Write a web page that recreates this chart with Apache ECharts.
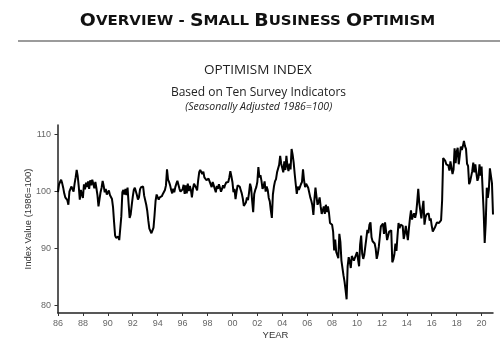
<!DOCTYPE html>
<html>
<head>
<meta charset="utf-8">
<script src="https://cdn.jsdelivr.net/npm/echarts@6/dist/echarts.min.js"></script>
<style>
html,body{margin:0;padding:0;background:#fff;}
#chart{width:500px;height:349px;}
</style>
</head>
<body>
<div id="chart"></div>
<script>
// ---- Data (monthly, Jan 1986 - Dec 2020), index 1986=100 ----
const startYear = 1986;
const idx1986_1990 = [
  99.8,101.2,101.6,102.0,101.4,100.6,99.6,98.9,98.7,98.4,97.6,99.9,
  100.4,100.8,101.1,99.9,101.3,102.4,103.7,102.6,100.8,98.5,100.2,99.4,
  98.8,101.2,100.3,101.5,100.7,101.7,100.4,101.9,101.0,102.0,101.3,100.5,
  101.6,100.5,99.3,97.3,98.6,99.8,100.6,101.8,100.9,99.8,100.4,99.4,
  99.6,100.1,99.3,99.4,98.6,97.2,94.6,92.2,91.8,91.6,92.0,91.4
];
const idx1991_1995 = [
  91.2,95.6,99.8,100.2,99.4,100.4,99.3,100.6,97.8,95.3,95.9,97.5,
  99.0,100.2,100.6,100.9,99.3,98.5,98.9,100.3,100.7,100.5,100.8,99.2,
  98.4,97.6,96.5,94.8,93.4,93.1,92.6,92.4,93.6,95.8,98.3,99.4,
  99.6,98.5,98.9,98.8,99.1,99.5,99.8,100.2,101.0,103.8,102.0,101.6,
  101.0,100.2,99.6,100.4,99.8,100.7,101.3,101.8,101.5,100.4,99.9,99.6
];
const idx1996_2000 = [
  100.3,101.1,99.5,101.0,99.6,101.3,100.0,100.9,100.2,98.9,100.4,101.3,
  101.2,100.6,100.1,101.9,103.3,103.7,103.6,103.0,103.4,102.4,102.1,101.9,
  101.9,102.2,101.7,101.5,100.7,101.6,101.0,100.9,99.8,100.9,100.4,101.2,
  100.6,99.9,100.4,101.0,100.5,101.1,101.5,101.8,101.6,102.4,103.5,102.6,
  101.6,99.8,100.4,98.6,99.9,101.0,101.2,100.8,100.2,99.6,98.7,97.4
];
const idx2001_2005 = [
  97.4,98.0,98.9,98.4,99.7,101.3,100.6,98.3,96.3,99.5,100.2,100.7,
  101.6,104.2,102.4,102.8,101.8,100.4,100.8,101.7,99.9,100.8,100.2,98.8,
  98.2,96.6,95.3,99.4,100.8,101.7,102.1,103.3,103.5,104.6,106.2,104.8,
  104.6,103.3,105.2,103.7,106.2,104.4,103.5,104.8,103.8,107.4,106.4,105.0,
  103.0,101.2,99.5,100.8,100.2,100.7,101.2,101.6,103.8,101.9,100.7,101.3
];
const idx2006_2010 = [
  101.4,100.6,100.9,98.9,98.3,97.5,95.8,98.6,100.6,99.0,97.6,98.1,
  98.9,97.3,96.0,96.6,97.3,96.0,97.6,96.3,97.3,96.2,94.4,94.6,
  94.1,92.9,89.6,91.5,89.3,89.2,88.2,92.5,91.1,87.8,87.8,85.2,
  84.1,82.6,81.0,86.8,88.4,87.7,86.5,88.6,88.8,87.8,88.3,88.0,
  89.3,88.0,86.8,90.6,92.2,89.0,88.1,88.8,89.0,91.7,93.2,92.6
];
const idx2011_2015 = [
  94.1,94.5,91.9,91.2,90.9,90.8,89.9,88.1,88.9,90.2,92.0,93.8,
  93.9,94.3,92.5,94.5,94.4,91.4,91.2,92.9,92.8,93.1,87.5,88.0,
  88.9,90.8,89.5,92.1,94.4,93.5,94.1,94.0,93.9,91.6,92.5,93.9,
  94.1,91.4,93.4,95.2,96.6,95.0,95.7,96.1,95.3,96.1,98.1,100.4,
  97.9,98.0,95.2,96.9,98.3,94.1,95.4,95.9,96.1,96.1,94.8,95.2
];
const idx2016_2020 = [
  93.9,92.9,92.6,93.6,93.8,94.5,94.6,94.4,94.1,94.9,98.4,105.8,
  105.9,105.3,104.7,104.5,104.5,103.6,105.2,105.3,103.0,103.8,107.5,104.9,
  106.9,107.6,104.7,104.8,107.8,107.2,107.9,108.8,107.9,107.4,104.8,104.4,
  101.2,101.7,101.8,103.5,105.0,103.3,104.7,103.1,101.8,102.4,104.7,102.7,
  104.3,104.5,96.4,90.9,94.4,100.6,98.8,100.2,104.0,104.0,101.4,95.9
];
const xTickYears = [1986,1988,1990,1992,1994,1996,1998,2000,2002,2004,2006,2008,2010,2012,2014,2016,2018,2020];
const yTicks = [80,90,100,110];

const monthly = [].concat(idx1986_1990, idx1991_1995, idx1996_2000, idx2001_2005, idx2006_2010, idx2011_2015, idx2016_2020);
const seriesData = monthly.map((v, i) => [startYear + i / 12, v]);
const xMax = startYear + (monthly.length - 1) / 12;

const chart = echarts.init(document.getElementById('chart'), null, {renderer: 'canvas'});
const titleFont = '"DejaVu Sans", sans-serif';
const bodyFont = '"Open Sans", sans-serif';
const axisFont = '"Liberation Sans", Arial, sans-serif';

chart.setOption({
  animation: false,
  backgroundColor: '#ffffff',
  graphic: [
    {
      type: 'text', x: 257.5, y: 21.5, scaleX: 1.11, scaleY: 1.0,
      style: {
        text: '{b|O}{s|VERVIEW - }{b|S}{s|MALL }{b|B}{s|USINESS }{b|O}{s|PTIMISM}',
        align: 'center', verticalAlign: 'middle',
        rich: {
          b: {fontFamily: titleFont, fontWeight: 'bold', fontSize: 17, fill: '#111', lineHeight: 20},
          s: {fontFamily: titleFont, fontWeight: 'bold', fontSize: 13.5, fill: '#111', lineHeight: 20}
        }
      }
    },
    {type: 'line', shape: {x1: 18, y1: 41, x2: 500, y2: 41}, style: {stroke: '#7a7a7a', lineWidth: 1.5}, silent: true},
    {type: 'text', x: 258, y: 70, style: {text: 'OPTIMISM INDEX', font: '13.5px ' + bodyFont, fill: '#222', align: 'center', verticalAlign: 'middle'}},
    {type: 'text', x: 258.5, y: 93, style: {text: 'Based on Ten Survey Indicators', font: '12px ' + bodyFont, fill: '#222', align: 'center', verticalAlign: 'middle'}},
    {type: 'text', x: 258.7, y: 107, style: {text: '(Seasonally Adjusted 1986=100)', font: 'italic 10.5px ' + bodyFont, fill: '#222', align: 'center', verticalAlign: 'middle'}}
  ],
  grid: {left: 58, right: 7, top: 125, bottom: 36, containLabel: false},
  xAxis: {
    type: 'value',
    min: startYear,
    max: xMax,
    name: 'YEAR',
    nameLocation: 'middle',
    nameGap: 17,
    nameMoveOverlap: false,
    nameTextStyle: {fontFamily: axisFont, fontSize: 9.5, color: '#333'},
    axisLine: {show: true, lineStyle: {color: '#222', width: 1.5}},
    axisTick: {show: true, length: 3, customValues: xTickYears, lineStyle: {color: '#333', width: 1}},
    axisLabel: {
      customValues: xTickYears,
      margin: 6,
      fontFamily: axisFont, fontSize: 9, color: '#666',
      formatter: v => String(Math.round(v) % 100).padStart(2, '0')
    },
    splitLine: {show: false}
  },
  yAxis: {
    type: 'value',
    min: 78.6,
    max: 111.6,
    name: 'Index Value (1986=100)',
    nameLocation: 'middle',
    nameGap: 25,
    nameMoveOverlap: false,
    nameTextStyle: {fontFamily: axisFont, fontSize: 9.5, color: '#333'},
    axisLine: {show: true, lineStyle: {color: '#222', width: 1.5}},
    axisTick: {show: true, length: 3.5, customValues: yTicks, lineStyle: {color: '#333', width: 1}},
    axisLabel: {customValues: yTicks, margin: 7, fontFamily: axisFont, fontSize: 9, color: '#666'},
    splitLine: {show: false}
  },
  series: [{
    type: 'line',
    data: seriesData,
    showSymbol: false,
    lineStyle: {color: '#000', width: 2},
    itemStyle: {color: '#000'}
  }]
});
</script>
</body>
</html>
